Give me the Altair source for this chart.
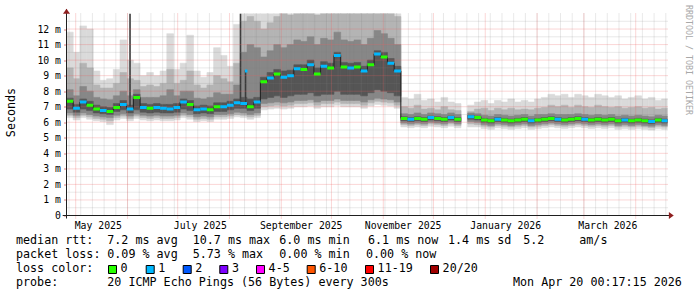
import altair as alt
import pandas as pd

# ---------------- data ----------------
T0 = "2025-04-25T12:00:00Z"      # first 4-day step
STEP_DAYS = 4
X_START = "2025-04-25T12:00:00Z"
X_END = "2026-04-20T00:17:15Z"

median = [7.35, 6.9, 7.3, 7.1, 6.85, 6.75, 6.7, 6.95, 7.15, 6.85, 7.6, 6.95, 6.9, 6.95, 6.9, 6.85, 6.95, 7.3, 7.15, 6.8, 6.85, 6.8, 7.0, 7.0, 7.1, 7.25, 7.2, 7.0, 7.3,
          8.6, 8.85, 9.1, 8.9, 9.0, 9.45, 9.4, 9.7, 9.1, 9.6, 9.5, 10.3, 9.55, 9.5, 9.55, 9.3, 9.7, 10.4, 10.2, 9.8, 9.3,
          6.25, 6.2, 6.25, 6.2, 6.3, 6.25, 6.2, 6.3, 6.2,
          None,
          6.35, 6.3, 6.15, 6.1, 6.2, 6.15, 6.1, 6.15, 6.2, 6.1, 6.15, 6.2, 6.25, 6.2, 6.15, 6.2, 6.25, 6.2, 6.15, 6.2, 6.15, 6.2, 6.1, 6.15, 6.1, 6.15, 6.1, 6.05, 6.15, 6.1]
loss = [0, 1, 1, 0, 0, 1, 0, 0, 1, 1, 0, 1, 0, 1, 1, 1, 1, 1, 0, 1, 1, 0, 0, 1, 1, 1, 1, 0, 1,
        0, 1, 0, 1, 1, 1, 0, 1, 0, 1, 0, 1, 0, 1, 0, 1, 0, 1, 0, 1, 1,
        0, 1, 0, 0, 1, 0, 0, 1, 0,
        None,
        1, 0, 0, 0, 1, 0, 0, 0, 0, 1, 0, 0, 0, 1, 0, 0, 0, 1, 0, 0, 0, 0, 0, 1, 0, 0, 0, 1, 0, 1]
hi1 = [11.8, 10.5, 12.2, 12.0, 9.3, 8.7, 8.8, 9.4, 11.3, 10.0, 9.8, 9.0, 9.2, 9.0, 9.3, 11.7, 9.4, 9.8, 11.6, 9.3, 8.9, 9.2, 10.8, 10.3, 9.6, 12.3, 13, 13, 13,
       13, 13, 13, 13, 13, 13, 13, 13, 13, 13, 13, 13, 13, 13, 13, 13, 13, 13, 13, 13, 13,
       7.6, 7.5, 7.8, 7.4, 7.5, 7.3, 7.6, 7.3, 7.2,
       None,
       7.1, 7.3, 7.4, 7.2, 7.4, 7.3, 7.5, 7.3, 7.4, 7.3, 7.5, 7.6, 7.8, 7.7, 7.8, 7.6, 7.8, 7.7, 7.6, 7.8, 7.7, 7.6, 7.7, 7.5, 7.6, 7.7, 7.5, 7.6, 7.4, 7.5]
hi2 = [9.5, 8.8, 9.8, 9.5, 8.4, 8.2, 8.2, 8.5, 9.2, 8.8, 8.7, 8.3, 8.4, 8.3, 8.5, 9.4, 8.5, 8.7, 9.3, 8.4, 8.2, 8.4, 9.0, 8.8, 8.6, 9.8, 12.5, 12.8, 12.5,
       12.0, 12.4, 12.8, 13, 12.9, 13, 13, 13, 12.9, 13, 13, 13, 13, 13, 13, 13, 13, 13, 13, 13, 12.8,
       7.0, 6.9, 7.1, 6.85, 6.9, 6.8, 7.0, 6.8, 6.75,
       None,
       6.7, 6.85, 6.9, 6.75, 6.9, 6.8, 6.9, 6.8, 6.85, 6.8, 6.9, 6.95, 7.1, 7.0, 7.1, 6.95, 7.1, 7.0, 6.95, 7.1, 7.0, 6.95, 7.0, 6.9, 6.95, 7.0, 6.9, 6.95, 6.85, 6.9]
hi3 = [8.1, 7.7, 8.3, 8.0, 7.6, 7.5, 7.45, 7.7, 8.0, 7.7, 8.1, 7.6, 7.6, 7.6, 7.7, 8.1, 7.7, 8.0, 8.0, 7.55, 7.5, 7.6, 7.9, 7.8, 7.8, 8.4, 10.5, 11.0, 10.8,
       10.2, 10.6, 11.0, 10.8, 11.0, 11.3, 11.2, 11.5, 11.0, 11.4, 11.3, 11.8, 11.3, 11.2, 11.3, 11.0, 11.4, 11.9, 11.7, 11.4, 11.0,
       6.55, 6.5, 6.6, 6.5, 6.6, 6.55, 6.5, 6.6, 6.5,
       None,
       6.6, 6.55, 6.45, 6.4, 6.5, 6.45, 6.4, 6.45, 6.5, 6.4, 6.5, 6.5, 6.55, 6.5, 6.5, 6.5, 6.55, 6.5, 6.45, 6.5, 6.45, 6.5, 6.4, 6.45, 6.4, 6.45, 6.4, 6.35, 6.45, 6.4]
hi4 = [7.55, 7.15, 7.5, 7.35, 7.1, 7.0, 6.95, 7.2, 7.4, 7.1, 7.8, 7.2, 7.15, 7.2, 7.15, 7.15, 7.2, 7.5, 7.4, 7.05, 7.1, 7.05, 7.25, 7.25, 7.35, 7.5, 7.6, 7.5, 7.6,
       8.9, 9.2, 9.4, 9.3, 9.35, 9.7, 9.7, 10.0, 9.5, 9.9, 9.8, 10.5, 9.85, 9.8, 9.85, 9.6, 10.0, 10.6, 10.5, 10.1, 9.6,
       6.35, 6.3, 6.35, 6.3, 6.4, 6.35, 6.3, 6.4, 6.3,
       None,
       6.45, 6.4, 6.25, 6.2, 6.3, 6.25, 6.2, 6.25, 6.3, 6.2, 6.25, 6.3, 6.35, 6.3, 6.25, 6.3, 6.35, 6.3, 6.25, 6.3, 6.25, 6.3, 6.2, 6.25, 6.2, 6.25, 6.2, 6.15, 6.25, 6.2]
lo4 = [6.85, 6.65, 6.85, 6.75, 6.6, 6.55, 6.5, 6.7, 6.8, 6.6, 6.8, 6.65, 6.6, 6.65, 6.6, 6.6, 6.65, 6.85, 6.75, 6.55, 6.6, 6.55, 6.7, 6.7, 6.8, 6.9, 6.9, 6.75, 6.9,
       7.5, 7.6, 7.7, 7.6, 7.7, 7.8, 7.8, 7.9, 7.7, 7.8, 7.8, 8.0, 7.8, 7.8, 7.8, 7.7, 7.9, 8.1, 8.0, 7.9, 7.7,
       6.1, 6.05, 6.1, 6.05, 6.15, 6.1, 6.05, 6.15, 6.05,
       None,
       6.2, 6.15, 6.0, 5.95, 6.05, 6.0, 5.95, 6.0, 6.05, 5.95, 6.0, 6.05, 6.1, 6.05, 6.0, 6.05, 6.1, 6.05, 6.0, 6.05, 6.0, 6.05, 5.95, 6.0, 5.95, 6.0, 5.95, 5.9, 6.0, 5.95]
lo3 = [6.6, 6.45, 6.6, 6.5, 6.4, 6.35, 6.3, 6.45, 6.55, 6.4, 6.55, 6.45, 6.4, 6.45, 6.4, 6.4, 6.45, 6.6, 6.5, 6.35, 6.4, 6.35, 6.5, 6.5, 6.55, 6.65, 6.6, 6.5, 6.6,
       7.2, 7.25, 7.3, 7.25, 7.3, 7.4, 7.4, 7.45, 7.3, 7.4, 7.4, 7.5, 7.4, 7.4, 7.4, 7.3, 7.45, 7.55, 7.5, 7.45, 7.3,
       5.95, 5.9, 5.95, 5.9, 6.0, 5.95, 5.9, 6.0, 5.9,
       None,
       6.05, 6.0, 5.85, 5.8, 5.9, 5.85, 5.8, 5.85, 5.9, 5.8, 5.85, 5.9, 5.95, 5.9, 5.85, 5.9, 5.95, 5.9, 5.85, 5.9, 5.85, 5.9, 5.8, 5.85, 5.8, 5.85, 5.8, 5.75, 5.85, 5.8]
lo2 = [6.45, 6.3, 6.45, 6.35, 6.25, 6.2, 6.1, 6.3, 6.4, 6.25, 6.4, 6.3, 6.25, 6.3, 6.25, 6.25, 6.3, 6.45, 6.35, 6.2, 6.25, 6.2, 6.35, 6.35, 6.4, 6.5, 6.45, 6.35, 6.45,
       7.0, 7.05, 7.1, 7.05, 7.1, 7.2, 7.2, 7.25, 7.1, 7.2, 7.2, 7.3, 7.2, 7.2, 7.2, 7.1, 7.25, 7.35, 7.3, 7.25, 7.1,
       5.85, 5.8, 5.85, 5.8, 5.9, 5.85, 5.8, 5.9, 5.8,
       None,
       5.9, 5.85, 5.75, 5.7, 5.8, 5.75, 5.7, 5.75, 5.8, 5.7, 5.75, 5.8, 5.85, 5.8, 5.75, 5.8, 5.85, 5.8, 5.75, 5.8, 5.75, 5.8, 5.7, 5.75, 5.7, 5.75, 5.7, 5.65, 5.75, 5.7]
lo1 = [6.3, 6.15, 6.3, 6.2, 6.1, 6.05, 5.85, 6.15, 6.25, 6.1, 6.25, 6.15, 6.1, 6.15, 6.1, 6.1, 6.15, 6.3, 6.2, 6.05, 6.1, 6.05, 6.2, 6.2, 6.25, 6.35, 6.3, 6.2, 6.3,
       6.8, 6.85, 6.9, 6.85, 6.9, 7.0, 7.0, 7.05, 6.9, 7.0, 7.0, 7.1, 7.0, 7.0, 7.0, 6.9, 7.05, 7.15, 7.1, 7.05, 6.9,
       5.7, 5.65, 5.7, 5.65, 5.75, 5.7, 5.65, 5.75, 5.65,
       None,
       5.7, 5.7, 5.6, 5.55, 5.65, 5.6, 5.55, 5.6, 5.65, 5.55, 5.6, 5.65, 5.7, 5.65, 5.6, 5.65, 5.7, 5.65, 5.6, 5.65, 5.6, 5.65, 5.55, 5.6, 5.55, 5.6, 5.55, 5.5, 5.6, 5.55]

# single-step spikes (dark smoke columns)
spike_t = ["2025-06-02T12:00:00Z", "2025-08-07T14:00:00Z", "2025-08-10T14:00:00Z"]
spike_lo = [7.0, 7.25, 7.2]
spike_hi = [13.0, 13.0, 9.35]
spike_med_t = ["2025-08-10T06:00:00Z"]
spike_med_t2 = ["2025-08-11T18:00:00Z"]
spike_med = [9.3]
spike_loss = [1]

# axis labels
y_ticks = list(range(0, 13))
x_label_t = ["2025-05-14T05:00:00Z", "2025-07-14T06:00:00Z", "2025-09-12T14:00:00Z",
             "2025-11-12T14:00:00Z", "2026-01-12T22:00:00Z", "2026-03-15T00:00:00Z"]

loss_labels = ["0", "1", "2", "3", "4-5", "6-10", "11-19", "20/20"]
loss_colors = ["#26ff00", "#00b8ff", "#0059ff", "#7e00ff", "#ff00ff", "#ff5500", "#ff0000", "#a00000"]

# ---------------- build tables ----------------
DAY = 86400000
def ms(s):
    return int(pd.Timestamp(s).timestamp() * 1000)

t0 = ms(T0)
n = len(median)
tt = [t0 + i * STEP_DAYS * DAY for i in range(n)]
df = pd.DataFrame({"t": tt, "t2": [v + STEP_DAYS * DAY for v in tt],
                   "med": median, "loss": loss,
                   "lo1": lo1, "hi1": hi1, "lo2": lo2, "hi2": hi2,
                   "lo3": lo3, "hi3": hi3, "lo4": lo4, "hi4": hi4})
df["nxt"] = df["med"].shift(-1)

spikes = pd.DataFrame({"t": spike_t, "lo": spike_lo, "hi": spike_hi})
spk_med = pd.DataFrame({"t": spike_med_t, "t2": spike_med_t2, "med": spike_med, "loss": spike_loss})

months = pd.DataFrame({"t": [int(v.timestamp() * 1000) for v in pd.date_range("2025-05-01", "2026-04-01", freq="MS", tz="UTC")]})
sundays = pd.DataFrame({"t": [int(v.timestamp() * 1000) for v in pd.date_range("2025-04-27", "2026-04-19", freq="W-SUN", tz="UTC")]})
ymaj = pd.DataFrame({"v": [float(v) for v in range(1, 13)]})
ymin = pd.DataFrame({"v": [v + 0.5 for v in range(0, 13)]})
one = pd.DataFrame({"k": [0]})

# ---------------- layout ----------------
W, H = 601, 202
OX, OY = 66.5, 13.5
MONO = "DejaVu Sans Mono"
xs = alt.Scale(type="utc", domain=[ms(X_START), ms(X_END)])
ys = alt.Scale(domain=[0, 13], nice=False, zero=True)

x_axis = alt.Axis(values=[ms(v) for v in x_label_t], labelExpr="utcFormat(datum.value, '%B %Y')",
                  ticks=False, grid=False, domain=False, labelPadding=13, labelBaseline="alphabetic",
                  labelAlign="center", labelFlush=False, labelOverlap=False, labelFont=MONO,
                  labelFontSize=9.8, labelColor="#000000", title=None)
y_axis = alt.Axis(values=y_ticks, labelExpr="datum.value == 0 ? '0' : datum.value + ' m'",
                  grid=False, domain=False, ticks=True, tickSize=3, tickColor="#e08080",
                  labelPadding=3, labelFont=MONO, labelFontSize=9.8, labelColor="#000000",
                  labelBaseline="middle", title=None)

def X(f):
    return alt.X(f, type="temporal", scale=xs, axis=x_axis)

def Y(f):
    return alt.Y(f, type="quantitative", scale=ys, axis=y_axis)

layers = []
band_colors = ["#dadada", "#b4b4b4", "#878787", "#555555"]
for k, c in enumerate(band_colors, start=1):
    layers.append(
        alt.Chart(df).mark_rect(color=c, stroke=c, strokeWidth=0.6, clip=True).encode(
            x=X("t"), x2="t2:T", y=Y(f"lo{k}"), y2=f"hi{k}:Q"))

layers.append(alt.Chart(spikes).mark_rule(color="#3c3c3c", strokeWidth=1.6, clip=True).encode(
    x=X("t"), y=Y("lo"), y2="hi:Q"))

# grid (drawn over the smoke, as rrdtool does)
layers.append(alt.Chart(sundays).mark_rule(color="#808080", opacity=0.35, strokeDash=[1, 1], strokeWidth=1).encode(
    x=X("t"), y=alt.value(0), y2=alt.value(H)))
layers.append(alt.Chart(ymin).mark_rule(color="#808080", opacity=0.35, strokeDash=[1, 1], strokeWidth=1).encode(
    y=Y("v"), x=alt.value(0), x2=alt.value(W)))
layers.append(alt.Chart(months).mark_rule(color="#f06060", opacity=0.5, strokeDash=[1, 1], strokeWidth=1).encode(
    x=X("t"), y=alt.value(0), y2=alt.value(H + 3)))
layers.append(alt.Chart(ymaj).mark_rule(color="#f06060", opacity=0.5, strokeDash=[1, 1], strokeWidth=1).encode(
    y=Y("v"), x=alt.value(0), x2=alt.value(W)))

# median line
layers.append(alt.Chart(df).mark_rule(color="#202020", strokeWidth=1, clip=True).encode(
    x=X("t2"), y=Y("med"), y2="nxt:Q"))
loss_scale = alt.Scale(domain=[0, 1], range=[loss_colors[0], loss_colors[1]])
layers.append(alt.Chart(df).mark_rule(strokeWidth=3, clip=True).encode(
    x=X("t"), x2="t2:T", y=Y("med"),
    color=alt.Color("loss:N", scale=loss_scale, legend=None)))
layers.append(alt.Chart(spk_med).mark_rule(strokeWidth=3, clip=True).encode(
    x=X("t"), x2="t2:T", y=Y("med"),
    color=alt.Color("loss:N", scale=loss_scale, legend=None)))

# axis lines and arrows
AXC = "#1f1f1f"
ARROW = "#8f1f1f"
layers.append(alt.Chart(one).mark_rule(color=AXC, strokeWidth=1).encode(
    x=alt.value(0), y=alt.value(-4.5), y2=alt.value(H + 3)))
layers.append(alt.Chart(one).mark_rule(color=AXC, strokeWidth=1).encode(
    x=alt.value(-3.8), x2=alt.value(W + 2.5), y=alt.value(H)))
layers.append(alt.Chart(one).mark_point(shape="M-1,0.7L0,-0.7L1,0.7Z", size=49, filled=True, color=ARROW, opacity=1).encode(
    x=alt.value(0), y=alt.value(11.3 - OY)))
layers.append(alt.Chart(one).mark_point(shape="M-0.7,-1L0.7,0L-0.7,1Z", size=49, filled=True, color=ARROW, opacity=1).encode(
    x=alt.value(671.3 - OX), y=alt.value(H)))

def txt(s, xa, ya, size=11.7, align="left", baseline="alphabetic", color="#000000", angle=0):
    return alt.Chart(one).mark_text(text=s, font=MONO, fontSize=size, align=align, baseline=baseline,
                                    color=color, angle=angle).encode(
        x=alt.value(xa - OX), y=alt.value(ya - OY))

layers.append(txt("Seconds", 10.5, 112.5, align="center", baseline="middle", angle=270))
layers.append(txt("RRDTOOL / TOBI OETIKER", 688, 60, size=8.3, align="center", baseline="middle",
                  color="#a8a8a8", angle=90))

rows = [
    (244, [("median rtt:", 16), ("7.2 ms avg", 107.3), ("10.7 ms max", 192.7), ("6.0 ms min", 279.3),
           ("6.1 ms now", 368), ("1.4 ms sd", 448), ("5.2", 523.3), ("am/s", 579.3)]),
    (258, [("packet loss:", 16), ("0.09 % avg", 107.3), ("5.73 % max", 192.7), ("0.00 % min", 279.3),
           ("0.00 % now", 366)]),
    (272, [("loss color:", 16)]),
    (286, [("probe:", 16), ("20 ICMP Echo Pings (56 Bytes) every 300s", 107.3), ("Mon Apr 20 00:17:15 2026", 513)]),
]
for ya, toks in rows:
    for s, xa in toks:
        layers.append(txt(s, xa, ya))

box_left = [108, 145.7, 182.7, 219.3, 256, 306.7, 365, 430]
for lab, col, bx in zip(loss_labels, loss_colors, box_left):
    layers.append(alt.Chart(one).mark_rect(fill=col, stroke="#000000", strokeWidth=1).encode(
        x=alt.value(bx + 0.5 - OX), x2=alt.value(bx + 8.5 - OX),
        y=alt.value(265.5 - OY), y2=alt.value(273.5 - OY)))
    layers.append(txt(lab, bx + 12.6, 272))

chart = alt.layer(*layers).properties(
    width=W, height=H,
    autosize=alt.AutoSizeParams(type="none"),
    padding={"left": OX, "top": OY, "right": 697 - OX - W, "bottom": 297 - OY - H},
    background="#ffffff",
).configure_view(stroke=None)

chart.save("out.html", embed_options={"renderer": "svg", "actions": False})
